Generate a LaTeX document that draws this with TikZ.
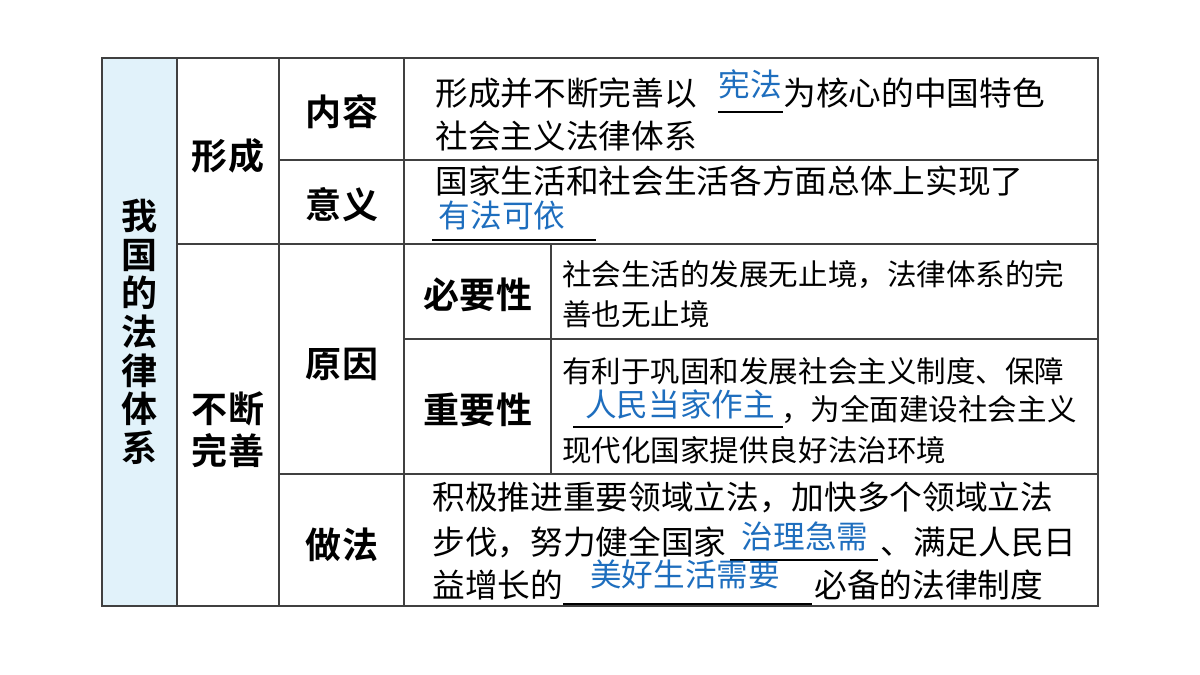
\documentclass[tikz,border=0pt]{standalone}
\usepackage{fontspec}
\setmainfont{Noto Sans CJK SC}
\newfontfamily\heavy{Noto Sans CJK SC Bold}
\usetikzlibrary{positioning}
\definecolor{ansblue}{RGB}{30,110,190}
\definecolor{sidefill}{RGB}{225,242,250}
\tikzset{
  grid/.style={draw=black!75, line width=0.9pt},
  head/.style={font=\fontsize{20.5}{24}\selectfont\heavy, align=center},
  body/.style={font=\fontsize{18.6}{22}\selectfont, inner sep=0pt, anchor=base west},
  small/.style={font=\fontsize{16.8}{20}\selectfont, inner sep=0pt, anchor=base west},
  ans/.style={font=\fontsize{18}{22}\selectfont, text=ansblue, inner sep=0pt, anchor=base},
  blank/.style={draw=black, line width=0.8pt}
}
\begin{document}
\begin{tikzpicture}[x=0.02cm, y=-0.02cm]
\useasboundingbox (0,0) rectangle (1200,675);
% table frame
\fill[sidefill] (102,58) rectangle (177,606);
\draw[grid] (102,58) rectangle (1098,606);
\draw[grid] (177,58) -- (177,606);
\draw[grid] (279,58) -- (279,606);
\draw[grid] (404,58) -- (404,606);
\draw[grid] (551,244) -- (551,474);
\draw[grid] (279,160) -- (1098,160);
\draw[grid] (177,244) -- (1098,244);
\draw[grid] (404,339) -- (1098,339);
\draw[grid] (279,474) -- (1098,474);
% headers
\node[head] (side) at (140,332) {我\\[-2pt]国\\[-2pt]的\\[-2pt]法\\[-2pt]律\\[-2pt]体\\[-2pt]系};
\node[head] (xc) at (228,156) {形成};
\node[head] (bd) at (228,430) {不断\\完善};
\node[head] (nr) at (342,112) {内容};
\node[head] (yy) at (342,205) {意义};
\node[head] (yin) at (342,364) {原因};
\node[head] (zf) at (342,545) {做法};
\node[head] (by) at (478,295) {必要性};
\node[head] (zy) at (478,410) {重要性};
% row: content
\node[body] (a1) at (435,106) {形成并不断完善以};
\coordinate (b1s) at (718,112); \coordinate (b1e) at (783,112);
\draw[blank] (b1s) -- (b1e);
\node[ans] (s1) at (750,97) {宪法};
\node[body] (a2) at (783,106) {为核心的中国特色};
\node[body] (a3) at (435,149) {社会主义法律体系};
% row: meaning
\node[body] (c1) at (435,194) {国家生活和社会生活各方面总体上实现了};
\node[ans] (s2) at (502,228) {有法可依};
\coordinate (b2s) at (432,240); \coordinate (b2e) at (596,240);
\draw[blank] (b2s) -- (b2e);
% row: necessity
\node[small] (d1) at (562,286) {社会生活的发展无止境，法律体系的完};
\node[small] (d2) at (562,326) {善也无止境};
% row: importance
\node[small] (e1) at (562,382) {有利于巩固和发展社会主义制度、保障};
\node[ans] (s3) at (680,417) {人民当家作主};
\coordinate (b3s) at (573,427); \coordinate (b3e) at (783,427);
\draw[blank] (b3s) -- (b3e);
\node[small] (e2) at (781,420) {，为全面建设社会主义};
\node[small] (e3) at (562,461) {现代化国家提供良好法治环境};
% row: method
\node[body] (f1) at (432,509) {积极推进重要领域立法，加快多个领域立法};
\node[body] (f2) at (432,554) {步伐，努力健全国家};
\node[ans] (s4) at (805,548) {治理急需};
\coordinate (b4s) at (730,560); \coordinate (b4e) at (878,560);
\draw[blank] (b4s) -- (b4e);
\node[body] (f3) at (880,554) {、满足人民日};
\node[body] (f4) at (432,597) {益增长的};
\node[ans] (s5) at (685,586) {美好生活需要};
\coordinate (b5s) at (563,604); \coordinate (b5e) at (812,604);
\draw[blank] (b5s) -- (b5e);
\node[body] (f5) at (814,597) {必备的法律制度};
\end{tikzpicture}
\end{document}
